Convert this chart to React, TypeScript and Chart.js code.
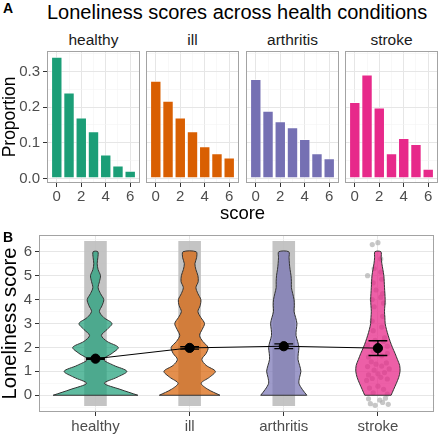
import React, { useEffect, useRef } from "react";
import Chart from "chart.js/auto";

// ---------- data ----------
const groups = ["healthy", "ill", "arthritis", "stroke"];
const groupColors = ["#1B9E77", "#D95F02", "#7570B3", "#E7298A"];
const violinFills = [
  "rgba(27,158,119,0.7)",
  "rgba(217,95,2,0.7)",
  "rgba(117,112,179,0.7)",
  "rgba(231,41,138,0.75)",
];

const scores = [0, 1, 2, 3, 4, 5, 6];
const propHealthy = [0.34, 0.24, 0.17, 0.132, 0.067, 0.036, 0.021];
const propIll = [0.273, 0.217, 0.17, 0.132, 0.09, 0.07, 0.058];
const propArthritis = [0.278, 0.189, 0.16, 0.143, 0.11, 0.07, 0.056];
const propStroke = [0.214, 0.291, 0.198, 0.07, 0.113, 0.096, 0.027];

const propTicksMajor = [0, 0.1, 0.2, 0.3];
const propGrid = [0, 0.05, 0.1, 0.15, 0.2, 0.25, 0.3, 0.35];
const scoreTicksMajor = [0, 2, 4, 6];
const scoreGrid = [0, 1, 2, 3, 4, 5, 6];

const violinLevels = [0, 0.25, 0.5, 0.75, 1, 1.25, 1.5, 1.75, 2, 2.25, 2.5, 2.75, 3, 3.25, 3.5, 3.75, 4, 4.25, 4.5, 4.75, 5, 5.25, 5.5, 5.75, 6];
const halfHealthy = [0.45, 0.26, 0.095, 0.228, 0.333, 0.193, 0.085, 0.175, 0.242, 0.123, 0.063, 0.123, 0.175, 0.088, 0.042, 0.07, 0.088, 0.053, 0.028, 0.042, 0.053, 0.028, 0.018, 0.025, 0.025];
const halfIll = [0.322, 0.193, 0.123, 0.21, 0.273, 0.175, 0.13, 0.175, 0.196, 0.14, 0.105, 0.133, 0.158, 0.119, 0.088, 0.112, 0.119, 0.088, 0.067, 0.091, 0.088, 0.067, 0.056, 0.074, 0.07];
const halfArthritis = [0.245, 0.196, 0.161, 0.168, 0.182, 0.168, 0.151, 0.154, 0.161, 0.147, 0.13, 0.133, 0.14, 0.126, 0.109, 0.112, 0.109, 0.095, 0.081, 0.081, 0.077, 0.067, 0.06, 0.056, 0.053];
const halfStroke = [0.14, 0.168, 0.196, 0.221, 0.235, 0.231, 0.207, 0.182, 0.154, 0.13, 0.109, 0.091, 0.077, 0.074, 0.07, 0.074, 0.077, 0.074, 0.07, 0.067, 0.063, 0.053, 0.042, 0.035, 0.032];

const meanScore = [1.53, 1.98, 2.05, 1.97];
const errScore = [0.03, 0.05, 0.1, 0.31];
const errCap = 0.1;

// dense jitter clouds (healthy, ill, arthritis) as bands
const bandGroups = [1, 2, 3];
const bandLow = -0.45;
const bandHigh = 6.45;

// sparse jitter points for stroke (offset from category, score)
const strokeDx = [-0.08, -0.03, 0.05, 0.11, 0.02, -0.1, 0.08, -0.05, 0.06, 0.0, -0.09, 0.1,
  -0.12, -0.06, 0.03, 0.1, -0.1, 0.0, 0.07, -0.04, 0.12, -0.11, 0.04, -0.02, 0.09, -0.07,
  -0.1, 0.04, 0.1, -0.05, 0.02, 0.1, -0.11, 0.06, -0.03, 0.07,
  -0.05, 0.04, -0.06, 0.05,
  -0.04, 0.06, -0.06, 0.03, 0.05, -0.02,
  -0.11, 0.04, -0.05, 0.03, -0.04,
  -0.06, 0.0, 0.03];
const strokeY = [-0.35, -0.42, -0.3, -0.38, -0.2, -0.15, -0.12, 0.1, 0.25, 0.38, 0.3, 0.05,
  0.62, 0.7, 0.75, 0.68, 0.85, 0.9, 0.95, 1.05, 1.1, 1.2, 1.22, 1.3, 1.35, 1.4,
  1.6, 1.65, 1.75, 1.85, 1.95, 2.05, 2.1, 2.25, 2.3, 2.4,
  2.7, 2.85, 3.1, 3.3,
  3.7, 3.85, 4.0, 4.1, 4.25, 4.4,
  5.0, 4.85, 4.7, 5.15, 5.3,
  6.3, 6.38, 5.7];

const scoreMajor = [0, 1, 2, 3, 4, 5, 6];
const scoreMinorGrid = [-0.5, 0, 0.5, 1, 1.5, 2, 2.5, 3, 3.5, 4, 4.5, 5, 5.5, 6, 6.5];

// ---------- style ----------
const FONT = "'Liberation Sans', Arial, Helvetica, sans-serif";
const MAJOR = "#e6e6e6";
const MINOR = "#f3f3f3";
const near = (arr: number[], v: number) => arr.some((a) => Math.abs(a - v) < 1e-9);

const panelBorder = {
  id: "panelBorder",
  afterDraw(chart: any) {
    const { ctx, chartArea: a } = chart;
    ctx.save();
    ctx.strokeStyle = "#a3a3a3";
    ctx.lineWidth = 1;
    ctx.strokeRect(Math.round(a.left) + 0.5, Math.round(a.top) + 0.5, Math.round(a.right - a.left) - 1, Math.round(a.bottom - a.top) - 1);
    ctx.restore();
  },
};

const panelLeft = [47, 146, 246, 345];
const panelW = 93;

const noPadY = (w: number) => (s: any) => {
  s.width = w;
  s.paddingTop = 0;
  s.paddingBottom = 0;
};
const noPadX = (h: number) => (s: any) => {
  s.height = h;
  s.paddingLeft = 0;
  s.paddingRight = 0;
};

function makeFacet(canvas: HTMLCanvasElement, i: number, values: number[]) {
  const first = i === 0;
  return new Chart(canvas, {
    type: "bar",
    data: {
      datasets: [
        {
          data: scores.map((s, k) => ({ x: s, y: values[k] })),
          backgroundColor: groupColors[i],
          borderColor: "rgba(255,255,255,0.75)",
          borderWidth: 0.8,
          borderSkipped: false,
          barPercentage: 0.9,
          categoryPercentage: 1,
        } as any,
      ],
    },
    options: {
      animation: false,
      responsive: false,
      events: [],
      layout: { padding: { top: 4, bottom: 0, left: first ? 0 : 1, right: 1 } },
      plugins: { legend: { display: false }, tooltip: { enabled: false } },
      scales: {
        x: {
          type: "linear",
          min: -0.8,
          max: 6.8,
          offset: false,
          afterBuildTicks: (s: any) => {
            s.ticks = scoreGrid.map((v) => ({ value: v }));
          },
          afterFit: noPadX(30),
          border: { display: false },
          grid: {
            offset: false,
            color: (c: any) => (near(scoreTicksMajor, c.tick.value) ? MAJOR : MINOR),
            lineWidth: (c: any) => (near(scoreTicksMajor, c.tick.value) ? 1 : 0.6),
            tickColor: (c: any) => (near(scoreTicksMajor, c.tick.value) ? "#333" : "rgba(0,0,0,0)"),
            tickWidth: 1,
            tickLength: 4,
          },
          ticks: {
            autoSkip: false,
            maxRotation: 0,
            minRotation: 0,
            padding: 1,
            color: "#4d4d4d",
            font: { family: FONT, size: 15 },
            callback: (v: any) => (near(scoreTicksMajor, v) ? String(v) : ""),
          },
        },
        y: {
          type: "linear",
          min: -0.0125,
          max: 0.357,
          afterBuildTicks: (s: any) => {
            s.ticks = propGrid.map((v) => ({ value: v }));
          },
          afterFit: noPadY(first ? 47 : 0),
          border: { display: false },
          grid: {
            color: (c: any) => (near(propTicksMajor, c.tick.value) ? MAJOR : MINOR),
            lineWidth: (c: any) => (near(propTicksMajor, c.tick.value) ? 1 : 0.6),
            tickColor: (c: any) => (near(propTicksMajor, c.tick.value) ? "#333" : "rgba(0,0,0,0)"),
            tickWidth: 1,
            tickLength: 4,
            drawTicks: first,
          },
          ticks: {
            display: first,
            autoSkip: false,
            padding: 3,
            color: "#4d4d4d",
            font: { family: FONT, size: 15 },
            callback: (v: any) => (near(propTicksMajor, v) ? Number(v).toFixed(1) : ""),
          },
          title: {
            display: first,
            text: "Proportion",
            color: "#000",
            font: { family: FONT, size: 17.5, lineHeight: 1.2 },
            padding: { top: 0, bottom: 0 },
          },
        },
      },
    } as any,
    plugins: [panelBorder],
  });
}

function makeViolins(canvas: HTMLCanvasElement) {
  const halves = [halfHealthy, halfIll, halfArthritis, halfStroke];
  const datasets: any[] = [];

  datasets.push({
    type: "bar",
    data: bandGroups.map((g) => ({ x: g, y: [bandLow, bandHigh] })),
    backgroundColor: "rgba(190,190,190,0.9)",
    borderWidth: 0,
    barPercentage: 0.24,
    categoryPercentage: 1,
    order: 6,
  });

  datasets.push({
    type: "scatter",
    data: strokeDx.map((dx, k) => ({ x: 4 + dx, y: strokeY[k] })),
    backgroundColor: "rgba(175,175,175,0.7)",
    borderWidth: 0,
    pointRadius: 2.6,
    order: 5,
  });

  halves.forEach((hw, g) => {
    const cx = g + 1;
    const left = violinLevels.map((v, k) => ({ x: cx - hw[k], y: v }));
    const right = violinLevels
      .map((v, k) => ({ x: cx + hw[k], y: v }))
      .reverse();
    datasets.push({
      type: "line",
      data: [...left, ...right],
      fill: "shape",
      backgroundColor: violinFills[g],
      borderColor: "#333333",
      borderWidth: 1,
      pointRadius: 0,
      tension: 0.3,
      order: 4,
    });
  });

  const baseData: any[] = [];
  halves.forEach((hw, g) => {
    baseData.push({ x: g + 1 - hw[0], y: violinLevels[0] });
    baseData.push({ x: g + 1 + hw[0], y: violinLevels[0] });
    baseData.push({ x: g + 1, y: null });
  });
  datasets.push({
    type: "line",
    data: baseData,
    borderColor: "#333333",
    borderWidth: 1,
    pointRadius: 0,
    tension: 0,
    spanGaps: false,
    fill: false,
    order: 3,
  });

  datasets.push({
    type: "line",
    data: meanScore.map((m, g) => ({ x: g + 1, y: m })),
    borderColor: "#000",
    borderWidth: 1,
    pointRadius: 0,
    tension: 0,
    fill: false,
    order: 2,
  });

  const errData: any[] = [];
  meanScore.forEach((m, g) => {
    const x = g + 1;
    const lo = m - errScore[g];
    const hi = m + errScore[g];
    errData.push({ x, y: lo }, { x, y: hi }, { x, y: null });
    errData.push({ x: x - errCap, y: lo }, { x: x + errCap, y: lo }, { x, y: null });
    errData.push({ x: x - errCap, y: hi }, { x: x + errCap, y: hi }, { x, y: null });
  });
  datasets.push({
    type: "line",
    data: errData,
    borderColor: "#000",
    borderWidth: 1.4,
    pointRadius: 0,
    tension: 0,
    spanGaps: false,
    fill: false,
    order: 1,
  });

  datasets.push({
    type: "scatter",
    data: meanScore.map((m, g) => ({ x: g + 1, y: m })),
    backgroundColor: "#000",
    borderColor: "#000",
    pointRadius: 4.6,
    order: 0,
  });

  return new Chart(canvas, {
    type: "scatter",
    data: { datasets },
    options: {
      animation: false,
      responsive: false,
      events: [],
      layout: { padding: { top: 7, right: 4, left: 0, bottom: 0 } },
      plugins: { legend: { display: false }, tooltip: { enabled: false } },
      scales: {
        x: {
          type: "linear",
          min: 0.4,
          max: 4.6,
          offset: false,
          afterBuildTicks: (s: any) => {
            s.ticks = groups.map((_, g) => ({ value: g + 1 }));
          },
          afterFit: noPadX(24),
          border: { display: false },
          grid: { offset: false, color: MAJOR, lineWidth: 1, tickColor: "#333", tickLength: 4, tickWidth: 1 },
          ticks: {
            autoSkip: false,
            maxRotation: 0,
            minRotation: 0,
            padding: 2,
            color: "#4d4d4d",
            font: { family: FONT, size: 15 },
            callback: (v: any) => groups[Math.round(v) - 1] ?? "",
          },
        },
        y: {
          type: "linear",
          min: -0.7,
          max: 6.7,
          afterBuildTicks: (s: any) => {
            s.ticks = scoreMinorGrid.map((v) => ({ value: v }));
          },
          afterFit: noPadY(39),
          border: { display: false },
          grid: {
            color: (c: any) => (near(scoreMajor, c.tick.value) ? MAJOR : MINOR),
            lineWidth: (c: any) => (near(scoreMajor, c.tick.value) ? 1 : 0.6),
            tickColor: (c: any) => (near(scoreMajor, c.tick.value) ? "#333" : "rgba(0,0,0,0)"),
            tickWidth: 1,
            tickLength: 4,
          },
          ticks: {
            autoSkip: false,
            padding: 3,
            color: "#4d4d4d",
            font: { family: FONT, size: 15 },
            callback: (v: any) => (near(scoreMajor, v) ? String(v) : ""),
          },
          title: {
            display: true,
            text: "Loneliness score",
            color: "#000",
            font: { family: FONT, size: 20.3, lineHeight: 1 },
            padding: { top: 0, bottom: 0 },
          },
        },
      },
    } as any,
    plugins: [panelBorder],
  });
}

const abs = (left: number, top: number): React.CSSProperties => ({ position: "absolute", left, top });

export default function App() {
  const f0 = useRef<HTMLCanvasElement>(null);
  const f1 = useRef<HTMLCanvasElement>(null);
  const f2 = useRef<HTMLCanvasElement>(null);
  const f3 = useRef<HTMLCanvasElement>(null);
  const vb = useRef<HTMLCanvasElement>(null);

  useEffect(() => {
    const vals = [propHealthy, propIll, propArthritis, propStroke];
    const refs = [f0, f1, f2, f3];
    const charts = refs.map((r, i) => makeFacet(r.current!, i, vals[i]));
    charts.push(makeViolins(vb.current!));
    return () => charts.forEach((c) => c.destroy());
  }, []);

  const refs = [f0, f1, f2, f3];
  return (
    <div style={{ position: "absolute", left: 0, top: 0, width: 440, height: 436, background: "#fff", fontFamily: FONT, overflow: "hidden" }}>
      <div style={{ ...abs(3, 0), fontWeight: "bold", fontSize: 14, lineHeight: "16px" }}>A</div>
      <div style={{ ...abs(47, 1), fontSize: 20, lineHeight: "22px", color: "#000", whiteSpace: "nowrap" }}>
        Loneliness scores across health conditions
      </div>
      {groups.map((g, i) => (
        <div key={g} style={{ ...abs(panelLeft[i], 30), width: panelW, textAlign: "center", fontSize: 15.5, lineHeight: "20px", color: "#1a1a1a" }}>
          {g}
        </div>
      ))}
      {refs.map((r, i) => (
        <canvas
          key={i}
          ref={r}
          width={i === 0 ? panelW + 48 : panelW + 2}
          height={166}
          style={abs(i === 0 ? 0 : panelLeft[i] - 1, 47)}
        />
      ))}
      <div style={{ ...abs(47, 202), width: 391, textAlign: "center", fontSize: 18.5, lineHeight: "22px", color: "#000" }}>score</div>
      <div style={{ ...abs(3, 229), fontWeight: "bold", fontSize: 14, lineHeight: "16px" }}>B</div>
      <canvas ref={vb} width={440} height={208} style={abs(0, 228)} />
    </div>
  );
}
